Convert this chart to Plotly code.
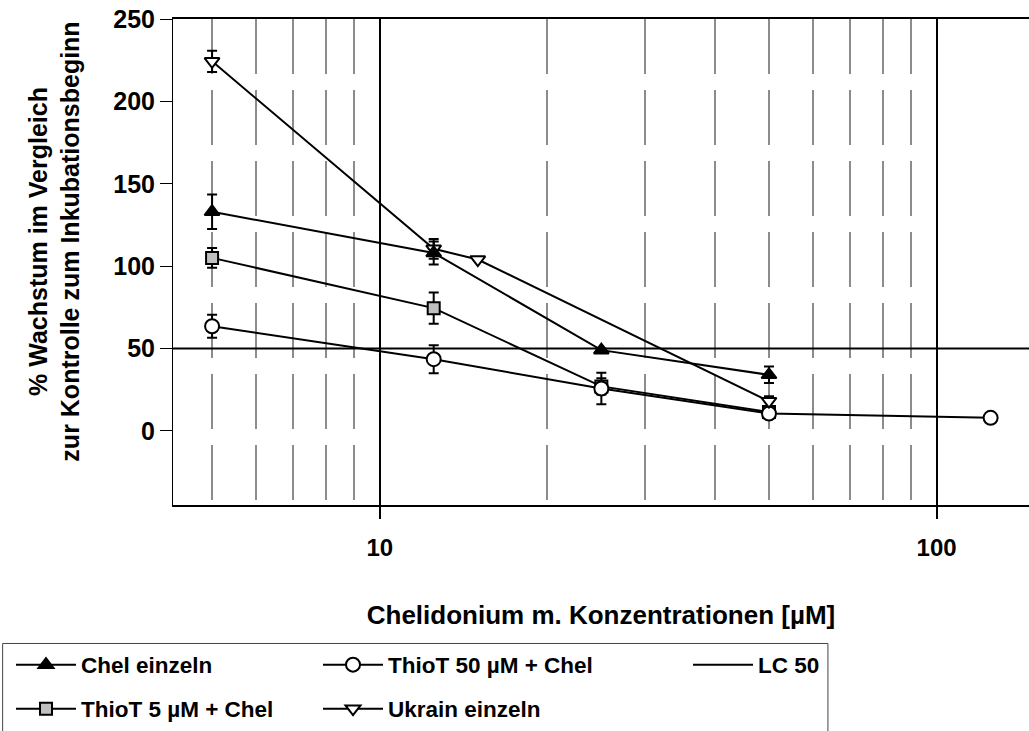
import math
import plotly.graph_objects as go

# Concentrations (µM) and growth relative to control at start of incubation (%)
conc_chel = [5, 12.5, 25, 50]
chel_mean = [133, 108, 49, 34]
chel_err = [10.5, 7, 1, 5]

conc_thio5 = [5, 12.5, 25, 50]
thio5_mean = [105, 74.5, 27, 11.5]
thio5_err = [6, 9.5, 5, 2]

conc_thio50 = [5, 12.5, 25, 50, 125]
thio50_mean = [63.5, 43.5, 25.7, 10.5, 7.9]
thio50_err = [7, 8.5, 9.5, 2, 1]

conc_ukrain = [5, 12.5, 15, 50]
ukrain_mean = [224.3, 110.5, 104, 18]
ukrain_err = [6.4, 6, 0, 3]

lc50_value = 50

x_range_um = [4.254, 146.5]
y_range = [-45, 250]
y_ticks = [0, 50, 100, 150, 200, 250]
x_ticks = [10, 100]
x_minor = [d * 10 ** e for e in (0, 1) for d in range(2, 10)]

FONT = "Liberation Sans, Arial, sans-serif"
W, H = 1029, 731
# plot area in pixels
PL, PR, PT, PB = 173.3, 1029.0, 19.3, 504.7


def px_to_paper_x(px):
    return (px - PL) / (PR - PL)


def px_to_paper_y(py):
    return (PB - py) / (PB - PT)


fig = go.Figure()


def err(vals):
    return dict(type="data", array=vals, visible=True, color="black",
                thickness=2, width=5)


fig.add_trace(go.Scatter(
    x=[x_range_um[0], x_range_um[1]], y=[lc50_value, lc50_value],
    mode="lines", name="LC 50", line=dict(color="black", width=2),
    legend="legend3", cliponaxis=True))

fig.add_trace(go.Scatter(
    x=conc_thio5, y=thio5_mean, error_y=err(thio5_err),
    mode="lines+markers", name="ThioT 5 µM + Chel",
    line=dict(color="black", width=2),
    marker=dict(symbol="square", size=12, color="#c0c0c0",
                line=dict(color="black", width=2)),
    legend="legend4"))

fig.add_trace(go.Scatter(
    x=conc_thio50, y=thio50_mean, error_y=err(thio50_err),
    mode="lines+markers", name="ThioT 50 µM + Chel",
    line=dict(color="black", width=2),
    marker=dict(symbol="circle", size=14, color="white",
                line=dict(color="black", width=2)),
    legend="legend2"))

fig.add_trace(go.Scatter(
    x=conc_ukrain, y=ukrain_mean, error_y=err(ukrain_err),
    mode="lines+markers", name="Ukrain einzeln",
    line=dict(color="black", width=2),
    marker=dict(symbol="triangle-down", size=13, color="white",
                line=dict(color="black", width=2)),
    legend="legend5"))

fig.add_trace(go.Scatter(
    x=conc_chel, y=chel_mean, error_y=err(chel_err),
    mode="lines+markers", name="Chel einzeln",
    line=dict(color="black", width=2),
    marker=dict(symbol="triangle-up", size=13, color="black",
                line=dict(color="black", width=2)),
    legend="legend"))

legend_font = dict(family=FONT, size=22.5, color="black", weight="bold")


def legend_at(px, py):
    return dict(xref="container", yref="container",
                x=px / W, y=1 - py / H, xanchor="left", yanchor="middle",
                font=legend_font, bgcolor="rgba(0,0,0,0)", borderwidth=0,
                itemwidth=60)


fig.update_layout(
    width=W, height=H,
    margin=dict(l=PL, r=W - PR, t=PT, b=H - PB, autoexpand=False),
    paper_bgcolor="white", plot_bgcolor="white",
    font=dict(family=FONT, color="black"),
    showlegend=True,
    legend=legend_at(11, 665),
    legend2=legend_at(318, 665),
    legend3=legend_at(688, 665),
    legend4=legend_at(11, 709),
    legend5=legend_at(318, 709),
    xaxis=dict(
        type="log",
        range=[math.log10(v) for v in x_range_um],
        tickmode="array", tickvals=x_ticks, ticktext=[str(v) for v in x_ticks],
        ticks="outside", ticklen=12, tickwidth=2, tickcolor="black",
        showgrid=True, gridcolor="black", gridwidth=2,
        minor=dict(tickmode="array", tickvals=x_minor, showgrid=True,
                   gridcolor="#8c8c8c", gridwidth=2, griddash="55px,16px",
                   ticks=""),
        showline=True, linecolor="black", linewidth=2, mirror=True,
        zeroline=False, automargin=False,
        tickfont=dict(family=FONT, size=24, color="black", weight="bold"),
        ticklabelstandoff=8,
        title=dict(text="Chelidonium m. Konzentrationen [µM]",
                   font=dict(family=FONT, size=26, color="black", weight="bold"),
                   standoff=46),
    ),
    yaxis=dict(
        range=y_range, tickmode="array", tickvals=y_ticks,
        ticks="outside", ticklen=12, tickwidth=1, tickcolor="black",
        showgrid=False, zeroline=False, automargin=False,
        showline=True, linecolor="black", linewidth=1,
        tickfont=dict(family=FONT, size=25, color="black", weight="bold"),
    ),
    annotations=[dict(
        text="% Wachstum im Vergleich<br>zur Kontrolle zum Inkubationsbeginn",
        xref="paper", yref="paper",
        x=px_to_paper_x(55), y=px_to_paper_y(242),
        xanchor="center", yanchor="middle", textangle=-90, showarrow=False,
        font=dict(family=FONT, size=25, color="black", weight="bold"),
    )],
    shapes=[dict(type="rect", xref="paper", yref="paper",
                 x0=px_to_paper_x(3), x1=px_to_paper_x(828),
                 y0=px_to_paper_y(745), y1=px_to_paper_y(643),
                 line=dict(color="#444", width=1), fillcolor="rgba(0,0,0,0)",
                 layer="above")],
)

fig.write_html("out.html")
